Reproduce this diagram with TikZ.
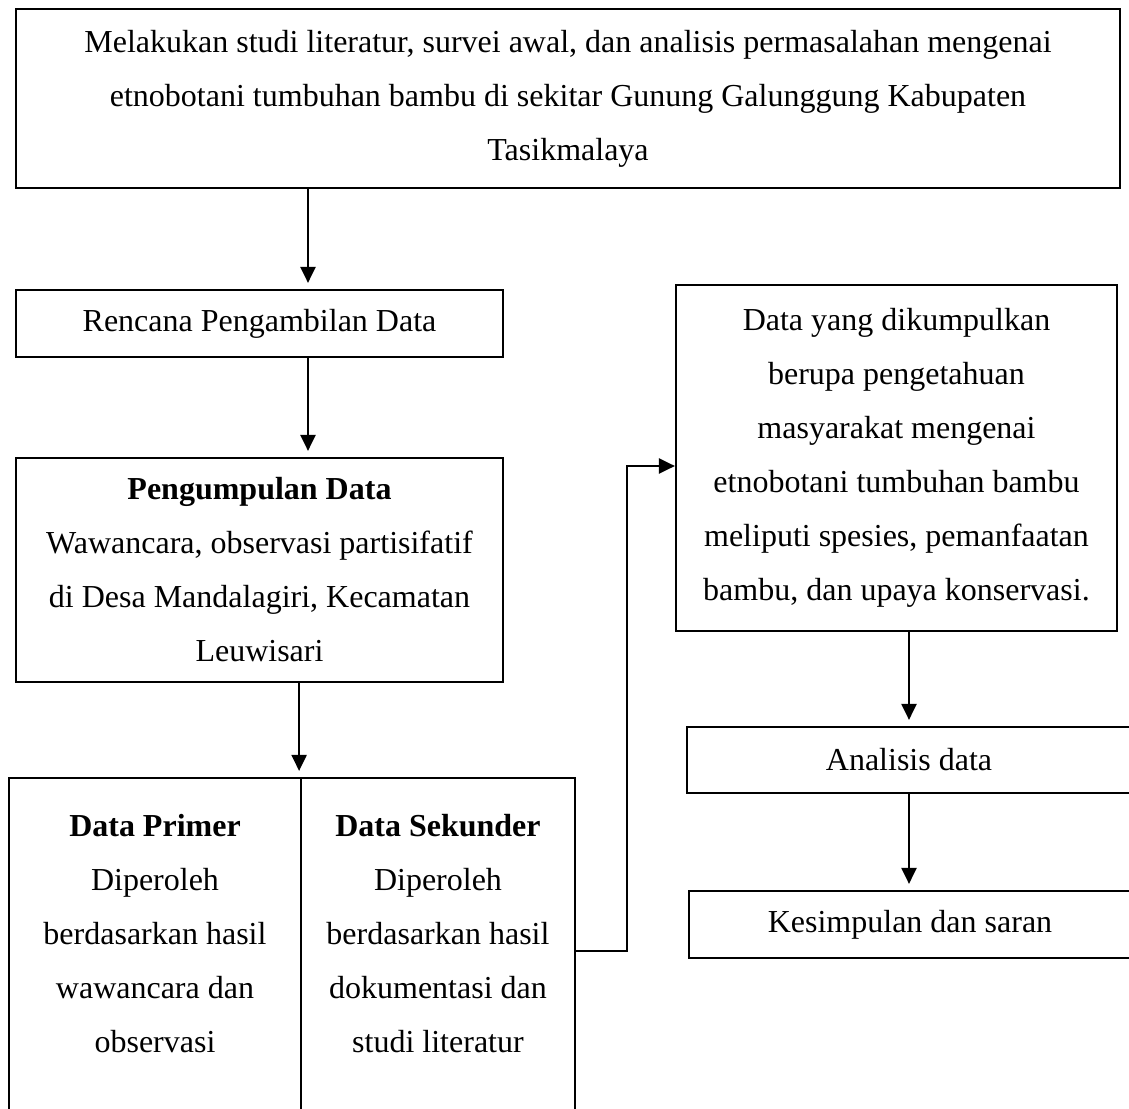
\documentclass[tikz,border=0pt]{standalone}
\usepackage{fontspec}
\setmainfont{Liberation Serif}
\usetikzlibrary{positioning,calc,arrows.meta}
\tikzset{
    flow box/.style={
        rectangle,
        draw=black,
        line width=1.1pt,
        fill=none,
        inner sep=0pt,
        align=center,
        font=\fontsize{16}{27}\selectfont,
    },
    flow text/.style={font=\fontsize{16}{27}\selectfont, align=center, inner sep=0pt},
    flow arrow/.style={line width=1.1pt, -{Triangle[length=8pt,width=7.5pt]}, shorten >=3pt},
    box size/.style 2 args={minimum width=#1*0.5pt, minimum height=#2*0.5pt}
}

\begin{document}
\begin{tikzpicture}[x=0.5pt,y=-0.5pt]

\useasboundingbox (0,0) rectangle (1129,1108);

%Left column
\node[flow box, box size={1104}{179}] (studi) at (568,98.5) {Melakukan studi literatur, survei awal, dan analisis permasalahan mengenai\\ etnobotani tumbuhan bambu di sekitar Gunung Galunggung Kabupaten\\ Tasikmalaya};
\node[flow box, box size={487}{67}] (rencana) at (259.5,323.5) {Rencana Pengambilan Data};
\node[flow box, box size={487}{224}] (kumpul) at (259.5,570) {\textbf{Pengumpulan Data}\\ Wawancara, observasi partisifatif\\ di Desa Mandalagiri, Kecamatan\\ Leuwisari};

%Split box, runs past the bottom edge
\node[flow box, box size={292}{362}] (primer) at (155,959) {};
\node[flow box, box size={274}{362}] (sekunder) at (438,959) {};
\node[flow text, anchor=north] (primer-text) at ($(primer.north)+(0,37)$) {\textbf{Data Primer}\\ Diperoleh\\ berdasarkan hasil\\ wawancara dan\\ observasi};
\node[flow text, anchor=north] (sekunder-text) at ($(sekunder.north)+(0,37)$) {\textbf{Data Sekunder}\\ Diperoleh\\ berdasarkan hasil\\ dokumentasi dan\\ studi literatur};

%Right column
\node[flow box, box size={441}{346}] (hasil) at (896.5,458) {Data yang dikumpulkan\\ berupa pengetahuan\\ masyarakat mengenai\\ etnobotani tumbuhan bambu\\ meliputi spesies, pemanfaatan\\ bambu, dan upaya konservasi.};
\node[flow box, box size={444}{66}] (analisis) at (909,760) {Analisis data};
\node[flow box, box size={442}{67}] (simpul) at (910,924.5) {Kesimpulan dan saran};

\coordinate (col) at (308,0);
\coordinate (bend) at (627,0);

\draw[flow arrow] (studi.south -| col) -- (rencana.north -| col);
\draw[flow arrow] (rencana.south -| col) -- (kumpul.north -| col);
\draw[flow arrow] ($(kumpul.south -| primer.east)+(-3,0)$) -- ($(primer.north east)+(-3,0)$);
\draw[flow arrow] (hasil.south -| analisis.north) -- (analisis.north);
\draw[flow arrow] (analisis.south) -- (analisis.south |- simpul.north);

\draw[flow arrow, shorten >=0pt] ($(sekunder.east)+(0,-8)$) -| ($(bend |- hasil.west)+(0,8)$) -- ($(hasil.west)+(0,8)$);

\end{tikzpicture}
\end{document}
